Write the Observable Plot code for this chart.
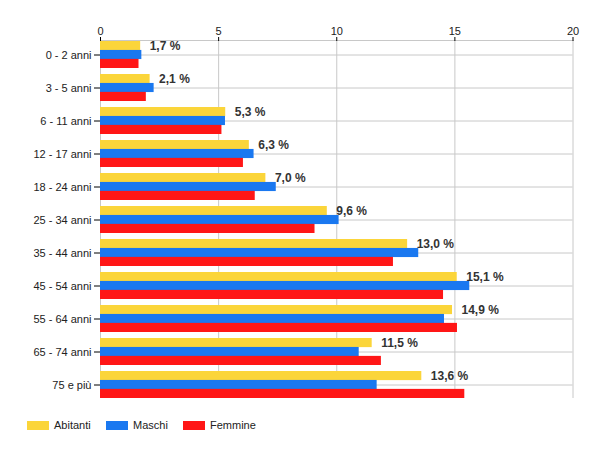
<!DOCTYPE html>
<html>
<head>
<meta charset="utf-8">
<script src="https://cdn.jsdelivr.net/npm/d3@7"></script>
<script src="https://cdn.jsdelivr.net/npm/@observablehq/plot@0.6"></script>
<style>
  body { margin: 0; background: #fff; font-family: "Liberation Sans", Arial, sans-serif; }
  #chart { width: 600px; height: 450px; position: relative; }
  #legend { position: relative; height: 30px; margin-top: 17px; font-size: 11px; color: #222; }
  .item { position: absolute; top: 0; display: flex; align-items: center; }
  .sw { width: 22px; height: 9px; margin-right: 5px; }
</style>
</head>
<body>
<div id="chart"></div>
<script>
const categories = ["0 - 2 anni", "3 - 5 anni", "6 - 11 anni", "12 - 17 anni", "18 - 24 anni",
  "25 - 34 anni", "35 - 44 anni", "45 - 54 anni", "55 - 64 anni", "65 - 74 anni", "75 e più"];
const abitanti = [1.7, 2.1, 5.3, 6.3, 7.0, 9.6, 13.0, 15.1, 14.9, 11.5, 13.6];
const maschi   = [1.75, 2.27, 5.29, 6.5, 7.44, 10.1, 13.47, 15.63, 14.56, 10.95, 11.71];
const femmine  = [1.63, 1.94, 5.14, 6.05, 6.55, 9.08, 12.4, 14.52, 15.11, 11.89, 15.42];
const seriesNames = ["Abitanti", "Maschi", "Femmine"];
const seriesColors = ["#fbd53a", "#1a78f0", "#ff1616"];
const xTicks = [0, 5, 10, 15, 20];

const rows = categories.map((c, i) => ({cat: c, a: abitanti[i], m: maschi[i], f: femmine[i]}));

const W = 600, H = 402, mTop = 40, mBottom = 4, padInner = 0.19;
const step = (H - mTop - mBottom) / (categories.length - padInner);
const bw = step * (1 - padInner);
const bar = bw / 3;

const fmt = v => v.toFixed(1).replace(".", ",") + " %";

const plot = Plot.plot({
  width: W,
  height: H,
  marginTop: mTop,
  marginBottom: mBottom,
  marginLeft: 100,
  marginRight: 27.5,
  style: {fontFamily: '"Liberation Sans", Arial, sans-serif', fontSize: "11px", color: "#222", background: "#fff"},
  x: {domain: [0, 20], axis: null},
  y: {domain: categories, paddingInner: padInner, paddingOuter: 0, axis: null},
  marks: [
    Plot.gridX(xTicks, {stroke: "#c8c8c8", strokeOpacity: 1}),
    Plot.gridY(categories, {stroke: "#c8c8c8", strokeOpacity: 1}),
    Plot.frame({anchor: "top", stroke: "#c8c8c8"}),
    Plot.barX(rows, {x: "a", y: "cat", fill: seriesColors[0], insetTop: 0, insetBottom: bw - bar}),
    Plot.barX(rows, {x: "m", y: "cat", fill: seriesColors[1], insetTop: bar, insetBottom: bar}),
    Plot.barX(rows, {x: "f", y: "cat", fill: seriesColors[2], insetTop: bw - bar, insetBottom: 0}),
    Plot.text(rows, {x: "a", y: "cat", text: d => fmt(d.a), dx: 9, dy: -bw / 2 + bar / 2,
      textAnchor: "start", fontWeight: "bold", fontSize: 12, fill: "#333"}),
    Plot.axisX(xTicks, {anchor: "top", tickSize: 4, tickPadding: 2, stroke: "#000", fill: "#222", fontSize: 11, label: null}),
    Plot.axisY(categories, {anchor: "left", tickSize: 6, tickPadding: 3, stroke: "#000", fill: "#222", fontSize: 11, label: null})
  ]
});
document.getElementById("chart").appendChild(plot);

const legend = document.createElement("div");
legend.id = "legend";
const lefts = [27, 106, 183];
seriesNames.forEach((n, i) => {
  const it = document.createElement("div");
  it.className = "item";
  it.style.left = lefts[i] + "px";
  const sw = document.createElement("div");
  sw.className = "sw";
  sw.style.background = seriesColors[i];
  const t = document.createElement("span");
  t.textContent = n;
  it.appendChild(sw);
  it.appendChild(t);
  legend.appendChild(it);
});
document.getElementById("chart").appendChild(legend);
</script>
</body>
</html>
